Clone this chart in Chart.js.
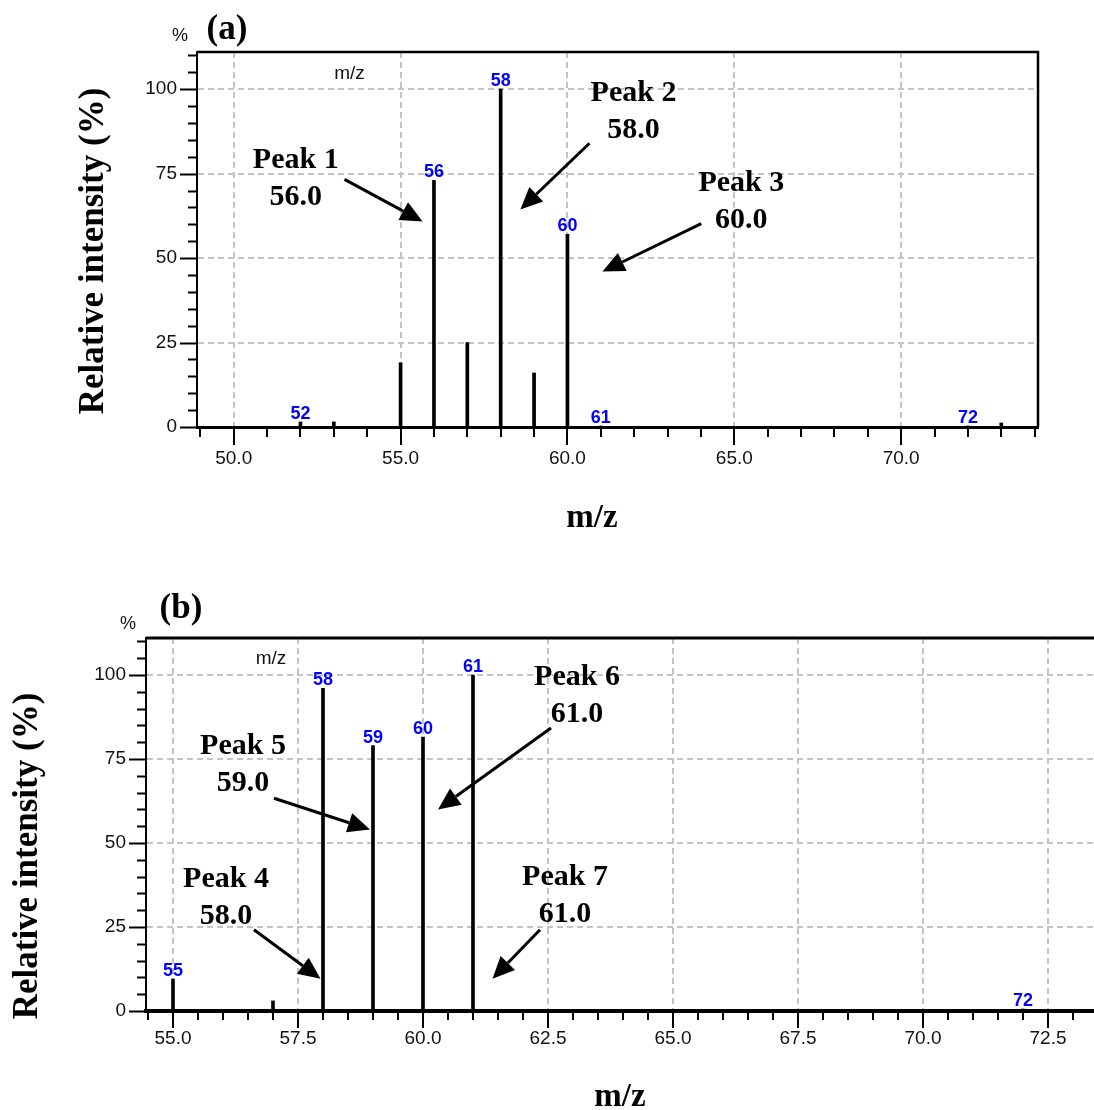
<!DOCTYPE html>
<html>
<head>
<meta charset="utf-8">
<script src="https://cdn.jsdelivr.net/npm/chart.js@4.4.0/dist/chart.umd.min.js"></script>
<style>
  html, body { margin: 0; padding: 0; background: #fff; }
  body { width: 1094px; height: 1110px; position: relative; overflow: hidden; }
  .box { position: absolute; left: 0; width: 1094px; }
  #boxA { top: 0; height: 560px; }
  #boxB { top: 560px; height: 550px; }
</style>
</head>
<body>
<div class="box" id="boxA"><canvas id="chartA"></canvas></div>
<div class="box" id="boxB"><canvas id="chartB"></canvas></div>
<script>
// spectrum (a)
const mzA = [52, 53, 55, 56, 57, 58, 59, 60, 61, 72, 73];
const intensityA = [1.5, 1.5, 19, 73, 25, 100, 16, 57, 0.3, 0.3, 1.2];
const labeledA = [52, 56, 58, 60, 61, 72];

// spectrum (b)
const mzB = [55, 57, 58, 59, 60, 61, 72];
const intensityB = [9.5, 3, 96, 79, 81.5, 100, 0.6];
const labeledB = [55, 58, 59, 60, 61, 72];

// tick labels
const yTickLabels = [0, 25, 50, 75, 100];
const xTickLabelsA = [50, 55, 60, 65, 70];
const xTickLabelsB = [55, 57.5, 60, 62.5, 65, 67.5, 70, 72.5];

// peak call-outs (text baseline + arrow, in data units)
const calloutsA = [
  { lines: ['Peak 1', '56.0'], x: 51.86, y: 76.6, from: [53.32, 73.3], to: [55.66, 60.8] },
  { lines: ['Peak 2', '58.0'], x: 61.98, y: 96.4, from: [60.66, 84.0], to: [58.59, 64.4] },
  { lines: ['Peak 3', '60.0'], x: 65.21, y: 70.0, from: [64.01, 60.2], to: [61.05, 46.0] }
];
const calloutsB = [
  { lines: ['Peak 6', '61.0'], x: 63.08, y: 97.0, from: [62.56, 84.2], to: [60.3, 60.0] },
  { lines: ['Peak 5', '59.0'], x: 56.4, y: 76.4, from: [57.02, 63.3], to: [58.94, 54.0] },
  { lines: ['Peak 4', '58.0'], x: 56.06, y: 37.0, from: [56.62, 24.2], to: [57.95, 9.6] },
  { lines: ['Peak 7', '61.0'], x: 62.84, y: 37.6, from: [62.34, 24.2], to: [61.39, 9.6] }
];

const SANS = 'Liberation Sans, Arial, sans-serif';
const SERIF = 'Liberation Serif, Times New Roman, serif';

function range(a, b, step) {
  const out = [];
  for (let k = 0; a + k * step <= b + 1e-9; k++) out.push(a + k * step);
  return out;
}

function arrow(ctx, x1, y1, x2, y2) {
  const ang = Math.atan2(y2 - y1, x2 - x1);
  const hl = 22, hw = 10;
  const bx = x2 - hl * Math.cos(ang), by = y2 - hl * Math.sin(ang);
  ctx.beginPath(); ctx.moveTo(x1, y1); ctx.lineTo(bx, by); ctx.stroke();
  ctx.beginPath();
  ctx.moveTo(x2, y2);
  ctx.lineTo(bx + hw * Math.sin(ang), by - hw * Math.cos(ang));
  ctx.lineTo(bx - hw * Math.sin(ang), by + hw * Math.cos(ang));
  ctx.closePath(); ctx.fill();
}

const decor = {
  id: 'decor',
  afterDraw(chart, args, o) {
    const ctx = chart.ctx, ca = chart.chartArea;
    const xs = chart.scales.x, ys = chart.scales.y;
    ctx.save();
    ctx.strokeStyle = '#000'; ctx.fillStyle = '#000';

    // tick marks (major/minor)
    ctx.lineWidth = 2;
    ys.ticks.forEach(t => {
      const p = Math.round(ys.getPixelForValue(t.value)) + 0.5;
      const len = yTickLabels.includes(t.value) ? 17 : 9;
      ctx.beginPath(); ctx.moveTo(ca.left - len, p); ctx.lineTo(ca.left, p); ctx.stroke();
    });
    xs.ticks.forEach(t => {
      const p = Math.round(xs.getPixelForValue(t.value));
      const len = o.xMajor.includes(t.value) ? o.majorLen : o.minorLen;
      ctx.beginPath(); ctx.moveTo(p, ca.bottom); ctx.lineTo(p, ca.bottom + len); ctx.stroke();
    });

    // frame: top (and right) border
    ctx.lineWidth = o.frameWidth;
    ctx.beginPath();
    ctx.moveTo(ca.left, ca.top);
    ctx.lineTo(ca.right, ca.top);
    if (o.rightBorder) ctx.lineTo(ca.right, ca.bottom);
    ctx.stroke();

    // blue m/z labels over peaks
    const meta = chart.getDatasetMeta(0);
    ctx.fillStyle = '#0000ff';
    ctx.font = 'bold 18px ' + SANS;
    ctx.textAlign = 'center'; ctx.textBaseline = 'alphabetic';
    meta.data.forEach((el, i) => {
      const m = chart.data.datasets[0].data[i].x;
      if (o.labeled.includes(m)) ctx.fillText(String(m), el.x, el.y - 3);
    });

    // inner "m/z" caption
    ctx.fillStyle = '#111';
    ctx.font = '19px ' + SANS;
    ctx.textBaseline = 'middle';
    ctx.fillText('m/z', xs.getPixelForValue(o.mzCaption[0]), ys.getPixelForValue(o.mzCaption[1]));

    // call-outs
    ctx.fillStyle = '#000';
    ctx.font = 'bold 30px ' + SERIF;
    ctx.textBaseline = 'alphabetic';
    ctx.lineWidth = 3;
    o.callouts.forEach(c => {
      const tx = xs.getPixelForValue(c.x), ty = ys.getPixelForValue(c.y);
      c.lines.forEach((s, k) => ctx.fillText(s, tx, ty + k * 37));
      arrow(ctx, xs.getPixelForValue(c.from[0]), ys.getPixelForValue(c.from[1]),
                 xs.getPixelForValue(c.to[0]), ys.getPixelForValue(c.to[1]));
    });

    // panel letter, % and axis titles
    ctx.textBaseline = 'middle';
    ctx.font = 'bold 35px ' + SERIF;
    ctx.fillText(o.panel, o.panelPos[0], o.panelPos[1]);
    ctx.font = '18px ' + SANS;
    ctx.fillStyle = '#111';
    ctx.fillText('%', o.pctPos[0], o.pctPos[1]);
    ctx.fillStyle = '#000';
    ctx.font = 'bold 33px ' + SERIF;
    ctx.fillText('m/z', o.xTitlePos[0], o.xTitlePos[1]);
    ctx.font = 'bold 35px ' + SERIF;
    ctx.translate(o.yTitlePos[0], o.yTitlePos[1]);
    ctx.rotate(-Math.PI / 2);
    ctx.fillText('Relative intensity (%)', 0, 0);
    ctx.restore();
  }
};

function makeChart(id, mz, inten, o) {
  return new Chart(document.getElementById(id), {
    type: 'bar',
    data: {
      datasets: [{
        data: mz.map((m, i) => ({ x: m, y: inten[i] })),
        backgroundColor: '#000',
        barThickness: 3
      }]
    },
    options: {
      responsive: true,
      maintainAspectRatio: false,
      animation: false,
      layout: { padding: o.padding },
      plugins: { legend: { display: false }, tooltip: { enabled: false }, decor: o },
      scales: {
        x: {
          type: 'linear', min: o.xMin, max: o.xMax, offset: false,
          afterBuildTicks: s => { s.ticks = range(o.xStart, o.xMax, o.xStep).map(v => ({ value: v })); },
          afterFit: s => { s.height = o.xHeight; },
          grid: {
            offset: false, drawTicks: false, lineWidth: 2,
            color: c => (c.tick && o.xMajor.includes(c.tick.value)) ? '#c4c4c4' : 'rgba(0,0,0,0)'
          },
          border: { color: '#000', width: o.xBorder, dash: [6, 4] },
          ticks: {
            autoSkip: false, maxRotation: 0, padding: o.xPad, color: '#111',
            font: { family: SANS, size: 19 },
            callback: v => o.xMajor.includes(v) ? v.toFixed(1) : ''
          }
        },
        y: {
          min: 0, max: 111,
          afterBuildTicks: s => { s.ticks = range(0, 110, 5).map(v => ({ value: v })); },
          afterFit: s => { s.width = o.yWidth; },
          grid: {
            drawTicks: false, lineWidth: 2,
            color: c => (c.tick && c.tick.value > 0 && yTickLabels.includes(c.tick.value)) ? '#c4c4c4' : 'rgba(0,0,0,0)'
          },
          border: { color: '#000', width: 2, dash: [6, 4] },
          ticks: {
            autoSkip: false, padding: 20, color: '#111',
            font: { family: SANS, size: 19 },
            callback: v => yTickLabels.includes(v) ? String(v) : ''
          }
        }
      }
    },
    plugins: [decor]
  });
}

makeChart('chartA', mzA, intensityA, {
  padding: { top: 52, right: 56, left: 0, bottom: 0 },
  yWidth: 197, xHeight: 133,
  xMin: 48.9, xMax: 74.1, xStart: 49, xStep: 1, xMajor: xTickLabelsA,
  xBorder: 3, xPad: 20, majorLen: 18, minorLen: 10,
  frameWidth: 2.5, rightBorder: true,
  labeled: labeledA, callouts: calloutsA, mzCaption: [53.47, 104.7],
  panel: '(a)', panelPos: [227, 30], pctPos: [180, 36],
  xTitlePos: [592, 518], yTitlePos: [94, 251]
});

makeChart('chartB', mzB, intensityB, {
  padding: { top: 78, right: 0, left: 0, bottom: 0 },
  yWidth: 146, xHeight: 99,
  xMin: 54.46, xMax: 73.42, xStart: 54.5, xStep: 0.5, xMajor: xTickLabelsB,
  xBorder: 4, xPad: 16, majorLen: 17, minorLen: 9,
  frameWidth: 3, rightBorder: false,
  labeled: labeledB, callouts: calloutsB, mzCaption: [56.96, 104.8],
  panel: '(b)', panelPos: [181, 49], pctPos: [128, 64],
  xTitlePos: [620, 537], yTitlePos: [28, 296]
});
</script>
</body>
</html>
